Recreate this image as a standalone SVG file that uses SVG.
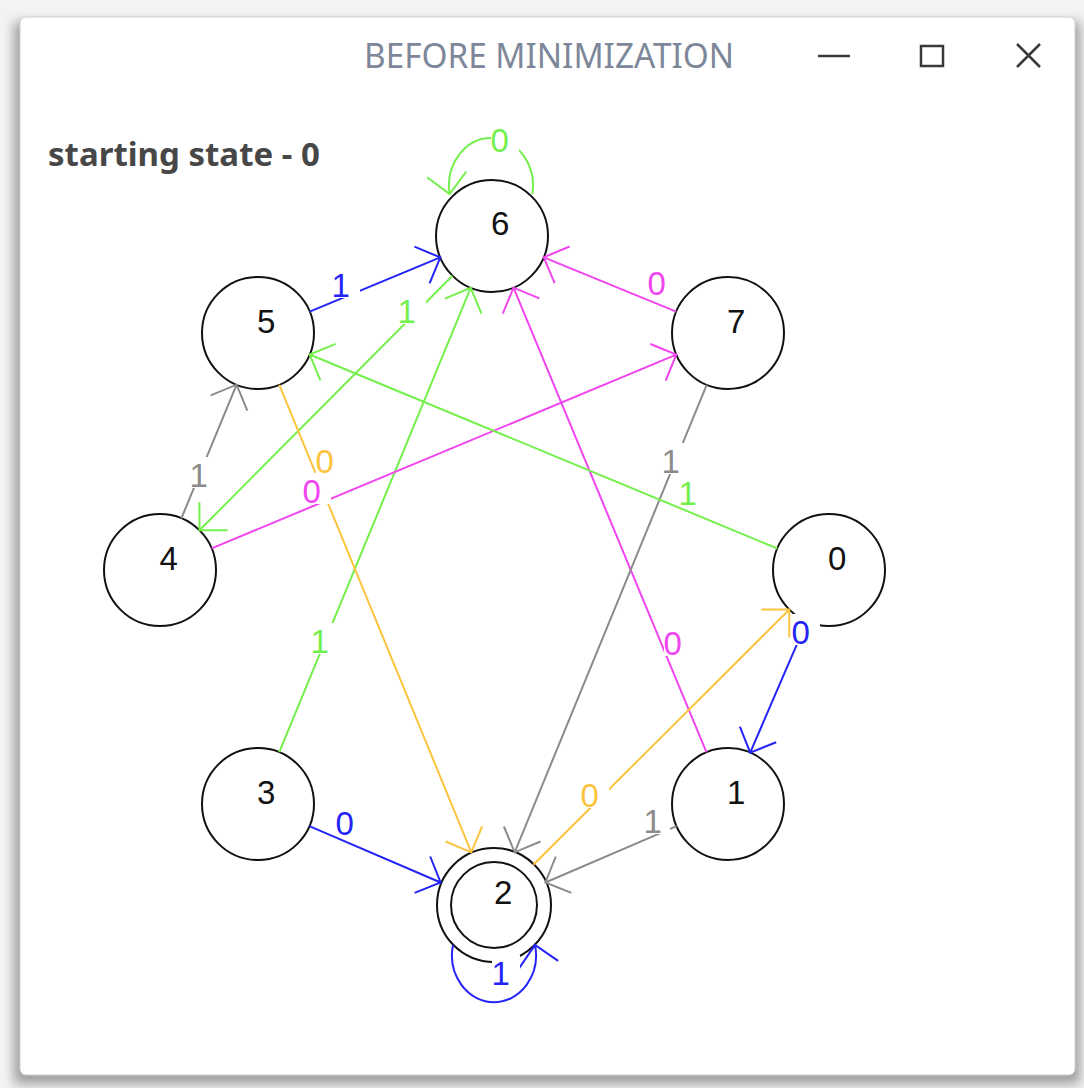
<svg xmlns="http://www.w3.org/2000/svg" width="1084" height="1088" viewBox="0 0 1084 1088">
<defs>
<filter id="sh" x="-5%" y="-5%" width="110%" height="110%"><feGaussianBlur stdDeviation="6"/></filter>
<style>
.nd circle{fill:#fff;stroke:#111;stroke-width:2}
.nt{font-family:"Liberation Sans",Arial,sans-serif;font-size:33px;fill:#111}
.lt{font-family:"Liberation Sans",Arial,sans-serif;font-size:33px}
.e{fill:none;stroke-width:2}
.g{stroke:#74f04c}.b{stroke:#2424f6}.m{stroke:#f045f0}.k{stroke:#8b8b8b}.o{stroke:#fcc43e}
.tg{fill:#74f04c}.tb{fill:#2424f6}.tm{fill:#f045f0}.tk{fill:#8b8b8b}.to{fill:#fcc43e}
.bx{fill:#fff}
.ctl{stroke:#3a3a3a;stroke-width:2.5;fill:none}
</style>
</defs>
<rect x="0" y="0" width="1084" height="1088" fill="#f3f3f3"/>
<rect x="14" y="22" width="1066" height="1062" fill="#000" opacity="0.35" filter="url(#sh)"/>
<rect x="20" y="17" width="1055" height="1058" rx="6" fill="#fff" stroke="#d0d0d0" stroke-width="1"/>
<g id="titlebar">
<text x="364" y="68" font-family="'Noto Sans','Open Sans',sans-serif" font-size="34" fill="#7d8799" textLength="370" lengthAdjust="spacingAndGlyphs">BEFORE MINIMIZATION</text>
<line class="ctl" x1="818" y1="56" x2="850" y2="56" stroke-width="3"/>
<rect class="ctl" x="921" y="46" width="22" height="20"/>
<path class="ctl" d="M1017,44 L1040,67 M1040,44 L1017,67"/>
</g>
<text id="start-label" x="48" y="166" font-family="'Noto Sans','Open Sans',sans-serif" font-weight="bold" font-size="33" fill="#474747">starting state - 0</text>
<g id="nodes-circles">
<g id="n0c" class="nd"><circle cx="829" cy="570" r="56"/></g>
<g id="n1c" class="nd"><circle cx="728" cy="804" r="56"/></g>
<g id="n2c" class="nd"><circle cx="494" cy="905" r="57"/><circle cx="494" cy="905" r="43"/></g>
<g id="n3c" class="nd"><circle cx="258" cy="804" r="56"/></g>
<g id="n4c" class="nd"><circle cx="160" cy="570" r="56"/></g>
<g id="n5c" class="nd"><circle cx="258" cy="333" r="56"/></g>
<g id="n6c" class="nd"><circle cx="492" cy="236" r="56"/></g>
<g id="n7c" class="nd"><circle cx="728" cy="333" r="56"/></g>
</g>
<g id="connectors">
<path class="e g" d="M532.4,194 A42,48 0 1 0 449.6,194 M466.3,171.5 L449.6,194 L427.1,177.3"/>
<path class="e b" d="M309.7,311.6 L440.3,257.4 M414.4,246.7 L440.3,257.4 L429.6,283.3"/>
<path class="e g" d="M452.5,275.7 L199.5,530.3 M227.5,530.2 L199.5,530.3 L199.4,502.3"/>
<path class="e g" d="M279.3,752.2 L470.7,287.8 M444.9,298.6 L470.7,287.8 L481.5,313.6"/>
<path class="e m" d="M676.2,311.7 L543.8,257.3 M554.6,283.1 L543.8,257.3 L569.6,246.5"/>
<path class="e m" d="M706.5,752.3 L513.5,287.7 M502.8,313.6 L513.5,287.7 L539.4,298.4"/>
<path class="e k" d="M706.7,384.8 L514.7,852.3 M540.5,841.5 L514.7,852.3 L503.9,826.5"/>
<path class="e o" d="M279.3,384.8 L471.3,852.3 M482.1,826.5 L471.3,852.3 L445.5,841.5"/>
<path class="e m" d="M211.7,548.4 L676.3,354.6 M650.4,344 L676.3,354.6 L665.7,380.5"/>
<path class="e g" d="M777.3,548.5 L309.7,354.5 M320.4,380.4 L309.7,354.5 L335.6,343.8"/>
<path class="e k" d="M181.4,518.3 L236.6,384.7 M210.7,395.4 L236.6,384.7 L247.3,410.6"/>
<path class="e b" d="M309.4,826.1 L440.6,882.5 M430.2,856.5 L440.6,882.5 L414.6,892.9"/>
<path class="e b" d="M806.8,621.4 L750.2,752.6 M776.2,742.3 L750.2,752.6 L739.9,726.6"/>
<path class="e k" d="M676.6,826.1 L545.4,882.5 M571.4,892.9 L545.4,882.5 L555.8,856.5"/>
<path class="e o" d="M533.4,864.8 L789.3,609.5 M761.3,609.5 L789.3,609.5 L789.3,637.5"/>
<path class="e b" d="M453,945 A42,47 0 1 0 535,945 M519.2,968.1 L535,945 L558.1,960.8"/>
</g>
<g id="edge-labels">
<rect class="bx" x="491" y="122" width="28" height="31"/><text class="lt tg" x="490.6" y="152">0</text>
<rect class="bx" x="332" y="267" width="28" height="31"/><text class="lt tb" x="331.4" y="297">1</text>
<rect class="bx" x="398" y="293" width="28" height="31"/><text class="lt tg" x="397.4" y="323">1</text>
<rect class="bx" x="311" y="623" width="28" height="31"/><text class="lt tg" x="310.4" y="653">1</text>
<rect class="bx" x="648" y="265" width="28" height="31"/><text class="lt tm" x="647.6" y="295">0</text>
<rect class="bx" x="664" y="625" width="28" height="31"/><text class="lt tm" x="663.6" y="655">0</text>
<rect class="bx" x="662" y="443" width="28" height="31"/><text class="lt tk" x="661.4" y="473">1</text>
<rect class="bx" x="316" y="443" width="28" height="31"/><text class="lt to" x="315.6" y="473">0</text>
<rect class="bx" x="303" y="473" width="28" height="31"/><text class="lt tm" x="302.6" y="503">0</text>
<rect class="bx" x="679" y="475" width="28" height="31"/><text class="lt tg" x="678.4" y="505">1</text>
<rect class="bx" x="190" y="457" width="28" height="31"/><text class="lt tk" x="189.4" y="487">1</text>
<rect class="bx" x="336" y="805" width="28" height="31"/><text class="lt tb" x="335.6" y="835">0</text>
<rect class="bx" x="792" y="614" width="28" height="31"/><text class="lt tb" x="791.6" y="644">0</text>
<rect class="bx" x="644" y="803" width="26" height="31"/><text class="lt tk" x="643.4" y="833">1</text>
<rect class="bx" x="581" y="777" width="28" height="31"/><text class="lt to" x="580.6" y="807">0</text>
<rect class="bx" x="492" y="955" width="28" height="31"/><text class="lt tb" x="491.4" y="985">1</text>
</g>
<g id="node-labels">
<g id="n0"><text class="nt" x="828" y="570">0</text></g>
<g id="n1"><text class="nt" x="727" y="804">1</text></g>
<g id="n2"><text class="nt" x="494" y="904">2</text></g>
<g id="n3"><text class="nt" x="257" y="804">3</text></g>
<g id="n4"><text class="nt" x="159.6" y="570">4</text></g>
<g id="n5"><text class="nt" x="257" y="333">5</text></g>
<g id="n6"><text class="nt" x="491" y="235">6</text></g>
<g id="n7"><text class="nt" x="727" y="333">7</text></g>
</g>
</svg>
